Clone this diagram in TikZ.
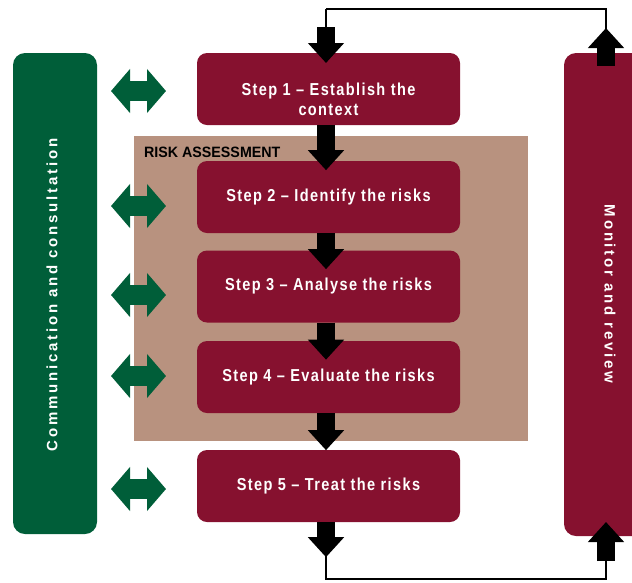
\documentclass[tikz,border=0pt]{standalone}
\usepackage{fontspec}
\setmainfont{Liberation Sans}
\newfontfamily\stepfont[FakeStretch=0.84,LetterSpace=8]{Liberation Sans}
\newfontfamily\sidefont[LetterSpace=18.5]{Liberation Sans}
\newfontfamily\rafont[FakeStretch=0.95]{Liberation Sans}
\usetikzlibrary{arrows.meta,calc}
\definecolor{maroon}{RGB}{134,17,47}
\definecolor{dgreen}{RGB}{0,94,57}
\definecolor{tanbg}{RGB}{184,146,127}
\begin{document}
\begin{tikzpicture}[x=1pt,y=-1pt,
  stepbox/.style={fill=maroon,draw=none,rounded corners=10pt,minimum width=263pt,minimum height=72pt,inner sep=0pt,
    text=white,font=\stepfont\bfseries\fontsize{17.3}{20}\selectfont,align=center},
  steptext/.style={text=white,font=\stepfont\bfseries\fontsize{17.3}{20}\selectfont,align=center,inner sep=0pt},
  sidebar/.style={draw=none,rounded corners=12pt,inner sep=0pt},
  sidetext/.style={text=white,font=\sidefont\bfseries\fontsize{15}{18}\selectfont,inner sep=0pt},
  blk/.style={draw=black,line width=18pt,-{Triangle[width=35pt,length=20pt]}},
  thin/.style={draw=black,line width=2pt},
  dbl/.style={draw=dgreen,line width=20pt,{Triangle[width=43pt,length=19pt]}-{Triangle[width=43pt,length=19pt]}}
]
\useasboundingbox (0,0) rectangle (632,582);
% risk assessment background
\node[fill=tanbg,draw=none,minimum width=394pt,minimum height=305pt,inner sep=0pt] (ra) at (331,288.5) {};
\node[anchor=base west,inner sep=0pt,font=\rafont\bfseries\fontsize{15}{18}\selectfont] (ralabel) at (144,157) {RISK ASSESSMENT};
% side bars
\node[sidebar,fill=dgreen,minimum width=84pt,minimum height=481pt] (comm) at (55,293.5) {};
\node[sidetext,rotate=90] (commt) at (52,295) {Communication and consultation};
\node[sidebar,fill=maroon,minimum width=84pt,minimum height=483pt] (mon) at (606,294.5) {};
\node[sidetext,rotate=-90] (mont) at (610,294) {Monitor and review};
% steps
\node[stepbox] (s1) at (328.5,89) {};
\node[steptext] (s1t) at (328.5,99) {Step 1 – Establish the\\context};
\node[stepbox] (s2) at (328.5,197) {Step 2 – Identify the risks};
\node[stepbox] (s3) at (328.5,286.5) {Step 3 – Analyse the risks};
\node[stepbox] (s4) at (328.5,377) {Step 4 – Evaluate the risks};
\node[stepbox] (s5) at (328.5,486) {Step 5 – Treat the risks};
% loop coordinates
\coordinate (tl) at (326,9);
\coordinate (tr) at (606,9);
\coordinate (bl) at (326,579);
\coordinate (br) at (606,579);
% black block arrows
\draw[thin] (tl) -- (tr) -- (606,30);
\draw[thin] (tl) -- (326,28);
\draw[blk] (326,27) -- (326,63);
\draw[blk] (mon.north -| tr) ++(0,13) -- (606,28);
\draw[blk] (s1.south -| tl) -- ++(0,45);
\draw[blk] (s2.south -| tl) -- ++(0,36);
\draw[blk] (s3.south -| tl) -- ++(0,37);
\draw[blk] (s4.south -| tl) -- ++(0,37);
\draw[blk] (s5.south -| tl) -- ++(0,35);
\draw[thin] (326,555) -- (bl) -- (br) -- (606,558);
\draw[blk] (606,561) -- (606,522);
% green double arrows
\foreach \y/\n in {91/1,206/2,295/3,376/4,489/5}{
  \coordinate (ga\n) at (111,\y);
  \coordinate (gb\n) at (166,\y);
  \draw[dbl] (ga\n) -- (gb\n);
}
\end{tikzpicture}
\end{document}
